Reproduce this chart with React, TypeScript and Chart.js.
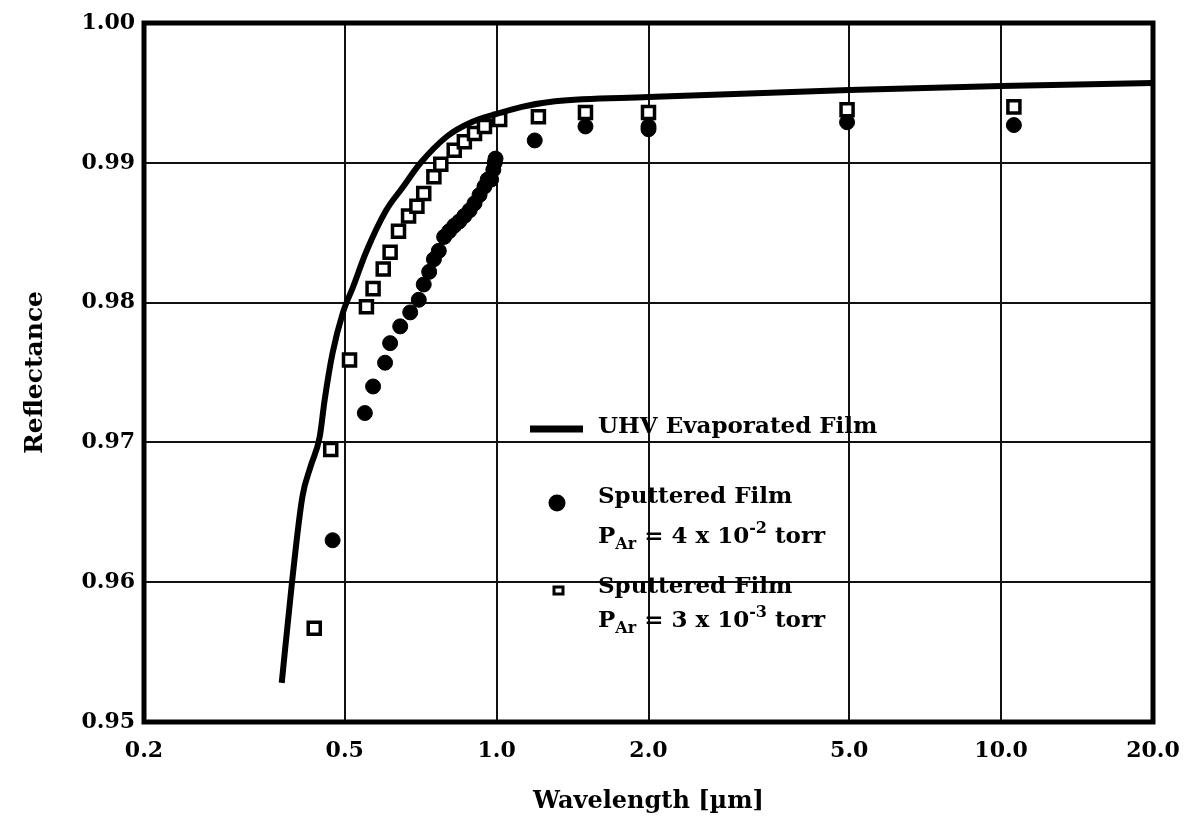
import React, { useEffect, useRef } from "react";
import { Chart, registerables } from "chart.js";

Chart.register(...registerables);

// ---- data ----
const lineWavelength = [0.375, 0.393, 0.412, 0.428, 0.446, 0.456, 0.473, 0.496, 0.519, 0.551, 0.604, 0.65, 0.707, 0.798, 0.891, 1.0, 1.122, 1.306, 2.0, 5.0, 10.0, 20.0];
const lineReflectance = [0.9528, 0.96, 0.9661, 0.9683, 0.9704, 0.973, 0.9764, 0.9793, 0.9811, 0.9836, 0.9866, 0.9882, 0.99, 0.9919, 0.9929, 0.9935, 0.994, 0.9944, 0.9947, 0.9952, 0.9955, 0.9957];

const circleWavelength = [0.473, 0.548, 0.569, 0.601, 0.615, 0.644, 0.674, 0.701, 0.717, 0.735, 0.751, 0.768, 0.787, 0.805, 0.824, 0.843, 0.863, 0.884, 0.904, 0.925, 0.946, 0.96, 0.975, 0.985, 0.991, 0.995, 1.19, 1.5, 2.0, 2.0, 4.95, 10.6];
const circleReflectance = [0.963, 0.9721, 0.974, 0.9757, 0.9771, 0.9783, 0.9793, 0.9802, 0.9813, 0.9822, 0.9831, 0.9837, 0.9847, 0.9851, 0.9855, 0.9858, 0.9862, 0.9866, 0.9871, 0.9877, 0.9883, 0.9888, 0.9888, 0.9895, 0.99, 0.9903, 0.9916, 0.9926, 0.9926, 0.9924, 0.9929, 0.9927];

const squareWavelength = [0.435, 0.469, 0.511, 0.552, 0.569, 0.596, 0.615, 0.639, 0.669, 0.695, 0.717, 0.751, 0.775, 0.824, 0.863, 0.904, 0.946, 1.014, 1.21, 1.5, 2.0, 4.95, 10.6];
const squareReflectance = [0.9567, 0.9695, 0.9759, 0.9797, 0.981, 0.9824, 0.9836, 0.9851, 0.9862, 0.9869, 0.9878, 0.989, 0.9899, 0.9909, 0.9915, 0.9921, 0.9926, 0.9931, 0.9933, 0.9936, 0.9936, 0.9938, 0.994];

const xTickValues = [0.2, 0.5, 1.0, 2.0, 5.0, 10.0, 20.0];
const xTickLabels = ["0.2", "0.5", "1.0", "2.0", "5.0", "10.0", "20.0"];
const yTickValues = [0.95, 0.96, 0.97, 0.98, 0.99, 1.0];
const yTickLabels = ["0.95", "0.96", "0.97", "0.98", "0.99", "1.00"];

const seriesNames = ["UHV Evaporated Film", "Sputtered Film", "Sputtered Film"];
const pressureMantissa = ["4", "3"];
const pressureExponent = ["-2", "-3"];

const FONT = "'DejaVu Serif', 'Liberation Serif', serif";

function toPoints(xs: number[], ys: number[]) {
  return xs.map((x, i) => ({ x, y: ys[i] }));
}

function drawPressure(ctx: CanvasRenderingContext2D, x: number, baseline: number, mant: string, exp: string) {
  const big = `bold 23px ${FONT}`;
  const small = `bold 16px ${FONT}`;
  ctx.textBaseline = "alphabetic";
  ctx.textAlign = "left";
  ctx.font = big;
  ctx.fillText("P", x, baseline);
  x += ctx.measureText("P").width;
  ctx.font = small;
  ctx.fillText("Ar", x, baseline + 6);
  x += ctx.measureText("Ar").width;
  ctx.font = big;
  const mid = " = " + mant + " x 10";
  ctx.fillText(mid, x, baseline);
  x += ctx.measureText(mid).width;
  ctx.font = small;
  ctx.fillText(exp, x, baseline - 10);
  x += ctx.measureText(exp).width;
  ctx.font = big;
  ctx.fillText(" torr", x, baseline);
}

const overlayPlugin = {
  id: "overlay",
  afterDraw(chart: any) {
    const { ctx, chartArea } = chart;
    const L = chartArea.left;
    const T = chartArea.top;
    ctx.save();
    ctx.fillStyle = "#000";
    ctx.strokeStyle = "#000";
    // legend
    ctx.lineWidth = 7;
    ctx.beginPath();
    ctx.moveTo(L + 386, T + 406);
    ctx.lineTo(L + 439, T + 406);
    ctx.stroke();
    ctx.font = `bold 23px ${FONT}`;
    ctx.textBaseline = "alphabetic";
    ctx.textAlign = "left";
    ctx.fillText(seriesNames[0], L + 454, T + 410);

    ctx.beginPath();
    ctx.arc(L + 413, T + 480, 8.5, 0, Math.PI * 2);
    ctx.fill();
    ctx.font = `bold 23px ${FONT}`;
    ctx.fillText(seriesNames[1], L + 454, T + 480);
    drawPressure(ctx, L + 454, T + 520, pressureMantissa[0], pressureExponent[0]);

    ctx.lineWidth = 3;
    ctx.strokeRect(L + 410, T + 564, 9, 7);
    ctx.font = `bold 23px ${FONT}`;
    ctx.fillText(seriesNames[2], L + 454, T + 570);
    drawPressure(ctx, L + 454, T + 604, pressureMantissa[1], pressureExponent[1]);

    // frame
    ctx.lineWidth = 5;
    ctx.strokeRect(chartArea.left, chartArea.top, chartArea.right - chartArea.left, chartArea.bottom - chartArea.top);
    ctx.restore();
  },
};

export default function App() {
  const ref = useRef<HTMLCanvasElement | null>(null);
  useEffect(() => {
    if (!ref.current) return;
    Chart.defaults.font.family = FONT;
    Chart.defaults.color = "#000";
    const chart = new Chart(ref.current, {
      type: "scatter",
      data: {
        datasets: [
          {
            label: seriesNames[0],
            data: toPoints(lineWavelength, lineReflectance),
            showLine: true,
            borderColor: "#000",
            borderWidth: 6,
            pointRadius: 0,
            cubicInterpolationMode: "monotone",
            fill: false,
          },
          {
            label: seriesNames[1],
            data: toPoints(circleWavelength, circleReflectance),
            showLine: false,
            pointStyle: "circle",
            pointRadius: 7.5,
            pointBackgroundColor: "#000",
            pointBorderColor: "#000",
            pointBorderWidth: 1,
          },
          {
            label: seriesNames[2],
            data: toPoints(squareWavelength, squareReflectance),
            showLine: false,
            pointStyle: "rect",
            pointRadius: 8.5,
            pointBackgroundColor: "#fff",
            pointBorderColor: "#000",
            pointBorderWidth: 3.5,
          },
        ],
      },
      options: {
        responsive: false,
        maintainAspectRatio: false,
        animation: false,
        devicePixelRatio: 1,
        layout: { padding: { top: 23, right: 36, left: 0, bottom: 0 } },
        plugins: {
          legend: { display: false },
          tooltip: { enabled: false },
        },
        scales: {
          x: {
            type: "logarithmic",
            min: 0.2,
            max: 20,
            afterBuildTicks: (scale: any) => {
              scale.ticks = xTickValues.map((v) => ({ value: v }));
            },
            afterFit: (scale: any) => {
              scale.height = 101;
              scale.paddingLeft = 0;
              scale.paddingRight = 0;
            },
            ticks: {
              autoSkip: false,
              maxRotation: 0,
              padding: 16,
              font: { size: 22, weight: "bold", family: FONT },
              color: "#000",
              callback: (_v: any, i: number) => xTickLabels[i],
            },
            grid: { color: "#111", lineWidth: 2, drawTicks: false },
            border: { display: false },
            title: {
              display: true,
              text: "Wavelength [µm]",
              font: { size: 24, weight: "bold", family: FONT },
              color: "#000",
              padding: { top: 0, bottom: 7 },
            },
          },
          y: {
            type: "linear",
            min: 0.95,
            max: 1.0,
            afterBuildTicks: (scale: any) => {
              scale.ticks = yTickValues.map((v) => ({ value: v }));
            },
            afterFit: (scale: any) => {
              scale.width = 144;
              scale.paddingTop = 0;
              scale.paddingBottom = 0;
            },
            ticks: {
              autoSkip: false,
              padding: 9,
              font: { size: 22, weight: "bold", family: FONT },
              color: "#000",
              callback: (_v: any, i: number) => yTickLabels[i],
            },
            grid: { color: "#111", lineWidth: 2, drawTicks: false },
            border: { display: false },
            title: {
              display: true,
              text: "Reflectance",
              font: { size: 25, weight: "bold", family: FONT },
              color: "#000",
              padding: { top: 20, bottom: 0 },
            },
          },
        },
      },
      plugins: [overlayPlugin],
    } as any);
    return () => chart.destroy();
  }, []);
  return (
    <div style={{ position: "fixed", left: 0, top: 0, width: 1189, height: 823, background: "#fff" }}>
      <canvas ref={ref} width={1189} height={823} style={{ display: "block", width: 1189, height: 823 }} />
    </div>
  );
}
